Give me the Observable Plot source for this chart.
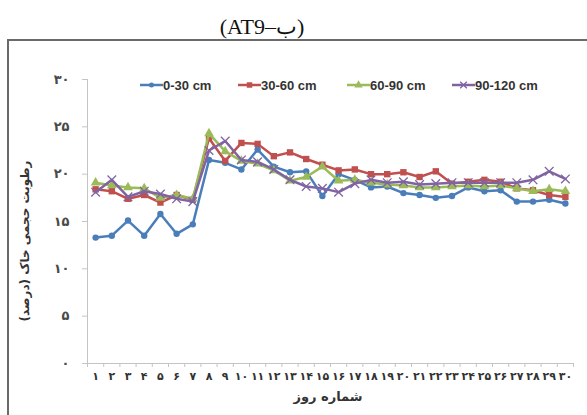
<!DOCTYPE html>
<html><head><meta charset="utf-8">
<script src="https://cdn.jsdelivr.net/npm/d3@7"></script>
<script src="https://cdn.jsdelivr.net/npm/@observablehq/plot@0.6"></script>
<style>
body{margin:0;background:#fff;width:587px;height:415px;overflow:hidden;position:relative;font-family:"Liberation Sans",Arial,sans-serif}
#title{position:absolute;top:16px;left:0;width:524px;text-align:center;font:22px/22px "Liberation Serif",serif;color:#111}
#frame{position:absolute;left:7px;top:39px;width:640px;height:420px;border:2px solid #6a6a6a}
#chart{position:absolute;left:0;top:0}
#ytitle{position:absolute;left:25px;top:241px;transform:translate(-50%,-50%) rotate(-90deg);white-space:nowrap;font:bold 12px "DejaVu Sans",sans-serif;color:#333}
#xtitle{position:absolute;left:328px;top:396px;transform:translate(-50%,-50%);white-space:nowrap;font:bold 13px "DejaVu Sans",sans-serif;color:#333}
#legend{position:absolute;left:0;top:77px;width:587px;height:16px;font:bold 13px "Liberation Sans",Arial,sans-serif;color:#333}
#legend .item{position:absolute;top:0;display:flex;align-items:center;height:16px;white-space:nowrap}
</style></head>
<body>
<div id="title" dir="ltr">(AT9–ب)</div>
<div id="frame"></div>
<div id="chart"></div>
<div id="ytitle" dir="rtl">رطوبت حجمی خاک (درصد)</div>
<div id="xtitle" dir="rtl">شماره روز</div>
<div id="legend"></div>
<script>
const days = d3.range(1, 31);
const xTickLabels = ["۱","۲","۳","۴","۵","۶","۷","۸","۹","۱۰","۱۱","۱۲","۱۳","۱۴","۱۵","۱۶","۱۷","۱۸","۱۹","۲۰","۲۱","۲۲","۲۳","۲۴","۲۵","۲۶","۲۷","۲۸","۲۹","۳۰"];
const yTicks = [0, 5, 10, 15, 20, 25, 30];
const yTickLabels = ["۰","۵","۱۰","۱۵","۲۰","۲۵","۳۰"];
const series = ["0-30 cm", "30-60 cm", "60-90 cm", "90-120 cm"];
const colors = ["#4a7ebb", "#c0504d", "#9bbb59", "#8064a2"];
const symbols = ["circle", "square", "triangle", "times"];
const legendLeft = [140, 238, 347, 452];

const v0_30 = [13.3,13.5,15.1,13.5,15.8,13.7,14.7,21.5,21.2,20.5,22.6,20.8,20.2,20.3,17.7,20.0,19.4,18.6,18.7,18.0,17.8,17.5,17.7,18.6,18.2,18.3,17.1,17.1,17.3,16.9];
const v30_60 = [18.4,18.2,17.4,17.8,17.0,17.8,17.3,23.8,21.4,23.3,23.2,21.9,22.3,21.6,21.0,20.4,20.5,20.0,20.0,20.2,19.7,20.3,19.0,19.2,19.4,19.2,18.5,18.3,17.8,17.6];
const v60_90 = [19.1,18.8,18.6,18.5,17.5,17.8,17.4,24.3,22.4,21.4,21.1,20.4,19.3,19.7,20.8,19.3,19.4,19.1,18.9,18.8,18.6,18.6,18.7,18.8,18.7,18.8,18.5,18.2,18.4,18.2];
const v90_120 = [18.1,19.4,17.6,18.2,17.9,17.4,17.1,22.5,23.5,21.5,21.3,20.5,19.4,18.7,18.5,18.1,19.0,19.4,19.1,19.2,18.9,19.0,19.1,19.1,19.1,19.1,19.1,19.4,20.3,19.5];
const values = [v0_30, v30_60, v60_90, v90_120];

const data = series.flatMap((s, i) => values[i].map((v, j) => ({day: days[j], v, s})));
const boundaries = d3.range(0.5, 31, 1);

const marks = [
  Plot.ruleY([0], {stroke: "#c4c4c4"}),
  Plot.ruleX([0.5], {stroke: "#c4c4c4"}),
  Plot.axisX({ticks: boundaries, tickSize: 4, tickFormat: () => "", stroke: "#c4c4c4", label: null}),
  Plot.axisX({ticks: days, tickSize: 0, tickPadding: 9, tickFormat: d => xTickLabels[d - 1], fill: "#333", fontSize: 11, fontWeight: "bold", label: null}),
  Plot.axisY({ticks: yTicks, tickSize: 5, tickPadding: 13, tickFormat: d => yTickLabels[yTicks.indexOf(d)], stroke: "#c4c4c4", fill: "#4a4a4a", fontSize: 13, fontWeight: "bold", label: null})
];
series.forEach((s, i) => {
  const d = data.filter(o => o.s === s);
  marks.push(Plot.line(d, {x: "day", y: "v", stroke: colors[i], strokeWidth: 2.5}));
  if (symbols[i] === "times") {
    marks.push(Plot.dot(d, {x: "day", y: "v", symbol: "times", stroke: colors[i], strokeWidth: 1.3, r: 4}));
  } else {
    marks.push(Plot.dot(d, {x: "day", y: "v", symbol: symbols[i], fill: colors[i], stroke: "none", r: symbols[i] === "circle" ? 3.2 : 3.6}));
  }
});

const chart = Plot.plot({
  width: 587, height: 415,
  marginLeft: 87, marginRight: 14, marginTop: 79, marginBottom: 52,
  x: {type: "linear", domain: [0.5, 30.5]},
  y: {type: "linear", domain: [0, 30]},
  style: {fontFamily: "DejaVu Sans", background: "transparent", overflow: "visible"},
  marks
});
document.getElementById("chart").appendChild(chart);

const legend = d3.select("#legend");
const symMap = {circle: d3.symbolCircle, square: d3.symbolSquare, triangle: d3.symbolTriangle, times: d3.symbolTimes};
series.forEach((s, i) => {
  const item = legend.append("div").attr("class", "item").style("left", legendLeft[i] + "px");
  const svg = item.append("svg").attr("width", 23).attr("height", 12);
  svg.append("line").attr("x1", 0).attr("x2", 23).attr("y1", 6).attr("y2", 6).attr("stroke", colors[i]).attr("stroke-width", 2.5);
  const path = svg.append("path").attr("transform", "translate(11.5,6)")
    .attr("d", d3.symbol(symMap[symbols[i]], symbols[i] === "circle" ? 20 : 30)());
  if (symbols[i] === "times") path.attr("fill", "none").attr("stroke", colors[i]).attr("stroke-width", 1.3);
  else path.attr("fill", colors[i]);
  item.append("span").text(s);
});
</script>
</body></html>
